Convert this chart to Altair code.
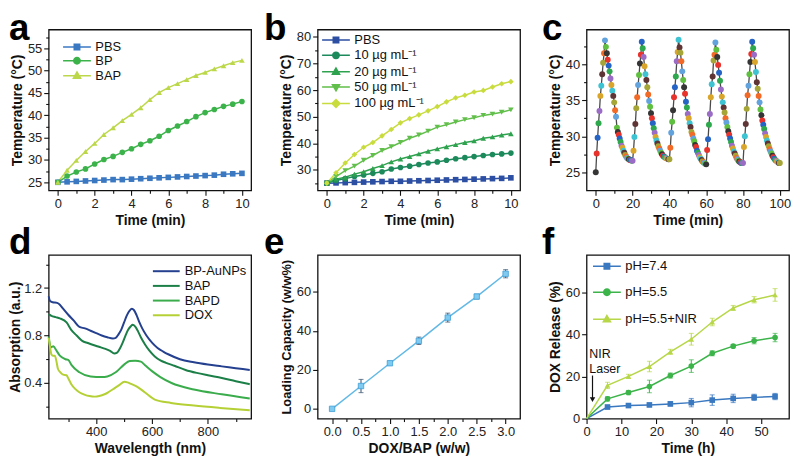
import altair as alt
import numpy as np
import pandas as pd

FONT = "Liberation Sans"

# ---------------- (a) heating curves ----------------
a_time = [0, 0.5, 1, 1.5, 2, 2.5, 3, 3.5, 4, 4.5, 5, 5.5, 6, 6.5, 7, 7.5, 8, 8.5, 9, 9.5, 10]
a_names = ["PBS", "BP", "BAP"]
a_pbs = [25.0, 25.1, 25.2, 25.3, 25.4, 25.5, 25.6, 25.6, 25.7, 25.8, 25.9, 26.0, 26.1, 26.2, 26.3, 26.4, 26.5, 26.6, 26.8, 26.9, 27.0]
a_bp = [25.0, 26.4, 27.3, 28.0, 29.1, 30.1, 30.8, 31.7, 32.5, 33.5, 34.3, 35.3, 36.6, 37.6, 38.6, 39.7, 40.6, 41.3, 42.0, 42.5, 43.1]
a_bap = [25.0, 27.7, 29.9, 31.9, 33.7, 35.7, 37.2, 38.8, 40.2, 41.7, 43.5, 45.1, 46.2, 47.1, 48.0, 48.9, 49.6, 50.4, 51.1, 51.8, 52.3]
a_colors = ["#3b78c2", "#3cb34a", "#bcd84a"]

# ---------------- (b) concentration dependence ----------------
b_names = ["PBS", "10 µg mL⁻¹", "20 µg mL⁻¹", "50 µg mL⁻¹", "100 µg mL⁻¹"]
b_pbs = [25.0, 25.1, 25.2, 25.3, 25.4, 25.5, 25.6, 25.7, 25.7, 25.8, 25.9, 26.0, 26.1, 26.2, 26.3, 26.4, 26.5, 26.6, 26.7, 26.8, 27.0]
b_10 = [25.0, 26.0, 26.7, 27.5, 28.1, 28.7, 29.3, 30.3, 30.9, 31.4, 32.0, 32.6, 33.0, 33.6, 34.2, 34.6, 35.0, 35.4, 35.8, 36.0, 36.3]
b_20 = [25.0, 26.5, 27.2, 28.4, 29.3, 30.5, 31.6, 33.0, 34.1, 35.0, 36.0, 37.0, 37.9, 38.7, 39.5, 40.3, 40.9, 41.9, 42.4, 43.1, 43.6]
b_50 = [25.0, 27.5, 29.7, 31.4, 33.6, 35.4, 37.3, 38.7, 40.3, 41.9, 43.1, 44.6, 46.1, 47.0, 48.0, 48.9, 49.6, 50.5, 51.0, 51.7, 52.6]
b_100 = [25.0, 28.9, 32.6, 35.8, 38.5, 40.3, 42.8, 45.2, 47.7, 49.3, 50.7, 52.2, 53.8, 55.6, 57.1, 58.1, 59.3, 59.9, 61.2, 62.4, 63.2]
b_colors = ["#2c4fa3", "#1d8a5c", "#2ea24e", "#62bf4b", "#c9dc3e"]

# ---------------- (c) on/off cycles ----------------
c_temp = [
    25.0, 27.6, 29.8, 31.8, 33.5, 35.6, 37.0, 38.6, 40.2, 41.5, 43.3,
    42.4, 41.5, 40.6, 39.8, 39.0, 38.0, 37.1, 36.3, 35.6, 34.7, 33.6, 32.7, 31.2, 30.6, 30.2,
    29.7, 29.2, 28.7, 28.4, 28.0, 27.7, 27.4, 27.2, 27.0, 26.9, 26.8, 26.7, 26.7, 26.6, 26.6,
    28.0, 29.9, 31.7, 33.9, 35.4, 37.1, 38.5, 40.1, 41.3, 43.1,
    42.2, 41.0, 39.7, 38.6, 37.8, 36.8, 35.8, 34.9, 34.1, 33.2, 32.5, 31.8, 31.1, 30.5, 29.9,
    29.4, 29.0, 28.6, 28.3, 28.0, 27.7, 27.5, 27.3, 27.2, 27.1, 27.0, 26.9, 26.9, 26.8, 26.8,
    28.4, 30.5, 32.0, 33.6, 35.4, 36.8, 38.3, 40.4, 41.7, 43.4,
    42.3, 41.6, 40.4, 39.0, 37.8, 36.8, 35.9, 34.8, 34.0, 33.1, 32.5, 31.8, 31.3, 30.6, 30.2,
    29.7, 29.3, 28.8, 28.5, 28.0, 27.7, 27.4, 27.1, 26.9, 26.7, 26.5, 26.4, 26.3, 26.2, 26.1,
    28.1, 29.6, 31.6, 33.1, 35.4, 37.2, 38.3, 40.5, 41.3, 43.0,
    42.0, 41.0, 39.9, 38.8, 37.7, 36.5, 35.5, 34.7, 34.0, 33.3, 32.5, 31.9, 31.3, 30.7, 30.2,
    29.7, 29.2, 28.7, 28.3, 27.9, 27.6, 27.3, 27.0, 26.8, 26.6, 26.5, 26.4, 26.3, 26.3, 26.3,
    28.5, 30.0, 31.7, 33.8, 35.7, 37.0, 38.6, 40.3, 41.4, 43.1,
    42.2, 41.3, 40.3, 38.9, 37.5, 36.6, 35.6, 34.7, 33.7, 32.9, 32.2, 31.6, 31.0, 30.4, 29.9,
    29.4, 29.0, 28.6, 28.2, 27.9, 27.6, 27.3, 27.1, 26.9, 26.7, 26.6, 26.5, 26.4, 26.3, 26.3,
]
c_time = [i * 0.5 for i in range(len(c_temp))]
c_palette = ["#353535", "#e8322c", "#2563c4", "#2ea84c", "#9b6cc6", "#d9a52a",
             "#3ec3d3", "#5e3434", "#a6a636", "#f26a26", "#62a2dd", "#5fbf3f"]

# ---------------- (d) absorption spectra ----------------
d_names = ["BP-AuNPs", "BAP", "BAPD", "DOX"]
d_colors = ["#24408f", "#1c7f47", "#3aac4c", "#b4d034"]
d_wl_1 = [230, 235, 245, 260, 270, 280, 300, 320, 340, 360, 380, 400, 420, 440, 460, 470, 480, 490, 500, 510, 520, 528, 535, 545, 555, 565, 580, 600, 620, 640, 660, 700, 750, 800, 850, 900, 950]
d_ab_1 = [1.13, 1.09, 1.08, 1.075, 1.06, 1.03, 0.975, 0.925, 0.872, 0.86, 0.84, 0.82, 0.80, 0.785, 0.775, 0.78, 0.81, 0.85, 0.91, 0.97, 1.01, 1.025, 1.015, 0.97, 0.91, 0.86, 0.80, 0.74, 0.695, 0.665, 0.64, 0.60, 0.574, 0.555, 0.54, 0.525, 0.51]
d_wl_2 = [230, 240, 255, 270, 294, 310, 330, 350, 370, 390, 410, 430, 450, 465, 475, 485, 495, 505, 515, 525, 530, 540, 550, 560, 575, 590, 610, 630, 650, 680, 720, 760, 800, 850, 900, 950]
d_ab_2 = [0.98, 0.965, 0.955, 0.945, 0.91, 0.85, 0.80, 0.755, 0.737, 0.72, 0.705, 0.69, 0.67, 0.648, 0.655, 0.69, 0.74, 0.80, 0.85, 0.88, 0.89, 0.875, 0.835, 0.785, 0.725, 0.675, 0.624, 0.59, 0.57, 0.545, 0.51, 0.485, 0.465, 0.442, 0.415, 0.39]
d_wl_3 = [230, 238, 247, 256, 270, 290, 300, 312, 340, 380, 420, 440, 470, 500, 520, 540, 560, 575, 600, 630, 670, 750, 850, 950]
d_ab_3 = [0.79, 0.70, 0.71, 0.68, 0.63, 0.60, 0.595, 0.55, 0.49, 0.455, 0.45, 0.455, 0.49, 0.555, 0.585, 0.588, 0.58, 0.55, 0.50, 0.45, 0.40, 0.345, 0.305, 0.27]
d_wl_4 = [230, 235, 240, 245, 252, 258, 263, 272, 282, 294, 300, 311, 325, 341, 360, 376, 395, 411, 430, 446, 465, 481, 502, 512, 522, 546, 575, 610, 668, 750, 843, 950]
d_ab_4 = [0.78, 0.70, 0.64, 0.63, 0.63, 0.58, 0.52, 0.49, 0.47, 0.465, 0.44, 0.39, 0.35, 0.32, 0.30, 0.29, 0.285, 0.29, 0.305, 0.326, 0.355, 0.38, 0.41, 0.405, 0.395, 0.37, 0.32, 0.26, 0.232, 0.21, 0.19, 0.17]

# ---------------- (e) loading capacity ----------------
e_ratio = [0.0, 0.5, 1.0, 1.5, 2.0, 2.5, 3.0]
e_capacity = [0.0, 11.7, 23.4, 34.9, 46.8, 57.6, 69.3]
e_err = [0.6, 3.4, 0.8, 1.9, 2.3, 1.2, 2.1]

# ---------------- (f) DOX release ----------------
f_time = [0, 6, 12, 18, 24, 30, 36, 42, 48, 54]
f_names = ["pH=7.4", "pH=5.5", "pH=5.5+NIR"]
f_74 = [0, 5.5, 6.2, 6.5, 7.0, 7.6, 8.8, 9.6, 10.1, 10.5]
f_74_err = [0, 0.8, 0.8, 0.8, 1.0, 2.0, 2.5, 2.0, 1.5, 1.5]
f_55 = [0, 9.4, 12.4, 15.3, 20.5, 25.0, 31.1, 34.5, 37.1, 38.6]
f_55_err = [0, 1.0, 1.0, 3.0, 1.2, 3.0, 1.2, 0.8, 1.5, 2.0]
f_nir = [0, 15.8, 20.1, 24.8, 31.8, 37.8, 46.0, 52.7, 56.6, 58.9]
f_nir_err = [0, 1.5, 1.0, 2.5, 1.2, 2.8, 1.8, 1.2, 1.5, 3.0]
f_colors = ["#3a78c0", "#3cb44a", "#b7d748"]
f_note = ["NIR", "Laser"]

# ---------------- helpers ----------------
SQ = "M-2.8,0H2.8M-0.55,-0.55H0.55V0.55H-0.55Z"
CI = "M-2.8,0H2.8M0.65,0A0.65,0.65,0,1,1,-0.65,0A0.65,0.65,0,1,1,0.65,0Z"
TU = "M-2.8,0H2.8M0,-0.75L0.72,0.5H-0.72Z"
TD = "M-2.8,0H2.8M0,0.75L0.72,-0.5H-0.72Z"
DI = "M-2.8,0H2.8M0,-0.8L0.8,0L0,0.8L-0.8,0Z"
LN = "M-2.7,0H2.7"


def long_df(x, names, ys):
    rows = []
    for n, yy in zip(names, ys):
        for xi, yi in zip(x, yy):
            rows.append({"x": xi, "y": yi, "s": n})
    return pd.DataFrame(rows)


def sc(dom):
    return alt.Scale(domain=dom, nice=False, zero=False)


def mk_axis(title, values, major, fmt, title_pad=3, title_size=14):
    test = f"abs(datum.value / {major} - round(datum.value / {major})) < 0.001"
    return alt.Axis(title=title, values=values, format=fmt, titlePadding=title_pad,
                    titleFontSize=title_size,
                    labelExpr=f"({test}) ? datum.label : ''",
                    tickSize={"condition": {"test": test, "value": 5}, "value": 3})


def leg(x, y, row_pad, label_offset=12):
    return alt.Legend(title=None, orient="none", legendX=x, legendY=y,
                      symbolSize=100, symbolStrokeWidth=1.5, symbolOpacity=1,
                      labelFont=FONT, labelFontSize=13, labelColor="#111",
                      labelOffset=label_offset, rowPadding=row_pad, padding=0)


def letter(t, dx, dy):
    return alt.TitleParams(t, anchor="start", frame="group", fontSize=37, fontWeight="bold",
                           font=FONT, color="#000", dx=dx, offset=0, dy=dy, baseline="alphabetic")


def series_layers(df, names, colors, shapes, paths, X, Y, legend, msize=32, pts_filter=None):
    cs = alt.Scale(domain=names, range=colors)
    base = alt.Chart(df)
    line = base.mark_line(strokeWidth=1.5).encode(
        x=X, y=Y, color=alt.Color("s:N", scale=cs, legend=None))
    pbase = base.transform_filter(pts_filter) if pts_filter else base
    pts = pbase.mark_point(filled=True, size=msize, opacity=1).encode(
        x=X, y=Y, color=alt.Color("s:N", scale=cs, legend=None),
        shape=alt.Shape("s:N", scale=alt.Scale(domain=names, range=shapes), legend=None))
    key = base.mark_point(filled=True, opacity=0).encode(
        x=X, y=Y,
        fill=alt.Fill("s:N", scale=alt.Scale(domain=names, range=colors), legend=legend),
        stroke=alt.Stroke("s:N", scale=alt.Scale(domain=names, range=colors), legend=legend),
        shape=alt.Shape("s:N", scale=alt.Scale(domain=names, range=paths), legend=legend))
    return line, pts, key


W = 204
H1 = 162
H2 = 165
DY1 = 48
DY2 = 36
IND = dict(color="independent", shape="independent", fill="independent", stroke="independent")

# ---------------- panel a ----------------
df_a = long_df(a_time, a_names, [a_pbs, a_bp, a_bap])
Xa = alt.X("x:Q", scale=sc([-0.5, 10.5]), axis=mk_axis("Time (min)", list(range(0, 11)), 2, "d"))
Ya = alt.Y("y:Q", scale=sc([23.2, 59.2]),
           axis=mk_axis("Temperature (°C)", [25 + 2.5 * i for i in range(14)], 5, "d"))
la, pa, ka = series_layers(df_a, a_names, a_colors, ["square", "circle", "triangle-up"],
                           [SQ, CI, TU], Xa, Ya, leg(22, 11, 0))
panel_a = alt.layer(la, pa, ka).resolve_scale(
    shape="independent", fill="independent", stroke="independent"
).properties(width=W, height=H1, title=letter("a", -40, DY1))

# ---------------- panel b ----------------
df_b = long_df(a_time, b_names, [b_pbs, b_10, b_20, b_50, b_100])
Xb = alt.X("x:Q", scale=sc([-0.5, 10.5]), axis=mk_axis("Time (min)", list(range(0, 11)), 2, "d"))
Yb = alt.Y("y:Q", scale=sc([22.3, 82.8]),
           axis=mk_axis("Temperature (°C)", list(range(25, 81, 5)), 10, "d"))
lb, pb, kb = series_layers(df_b, b_names, b_colors,
                           ["square", "circle", "triangle-up", "triangle-down", "diamond"],
                           [SQ, CI, TU, TD, DI], Xb, Yb, leg(12, 4, 1.5))
panel_b = alt.layer(lb, pb, kb).resolve_scale(
    shape="independent", fill="independent", stroke="independent"
).properties(width=W, height=H1, title=letter("b", -54, DY1))

# ---------------- panel c ----------------
df_c = pd.DataFrame({"x": c_time, "y": c_temp})
df_c["k"] = np.arange(len(df_c)) % len(c_palette)
Xc = alt.X("x:Q", scale=sc([-5, 105]), axis=mk_axis("Time (min)", list(range(0, 101, 10)), 20, "d"))
Yc = alt.Y("y:Q", scale=sc([22.5, 44.8]),
           axis=mk_axis("Temperature (°C)", [25 + 2.5 * i for i in range(8)], 5, "d"))
lc = alt.Chart(df_c).mark_line(color="#4a4a4a", strokeWidth=1.3).encode(x=Xc, y=Yc)
pc = alt.Chart(df_c).mark_circle(size=36, opacity=1).encode(
    x=Xc, y=Yc,
    color=alt.Color("k:N", scale=alt.Scale(domain=list(range(len(c_palette))), range=c_palette),
                    legend=None))
panel_c = alt.layer(lc, pc).properties(width=W, height=H1, title=letter("c", -45, DY1))

# ---------------- panel d ----------------
rows = []
for n, xs, ys in zip(d_names, [d_wl_1, d_wl_2, d_wl_3, d_wl_4], [d_ab_1, d_ab_2, d_ab_3, d_ab_4]):
    for xi, yi in zip(xs, ys):
        rows.append({"x": xi, "y": yi, "s": n})
df_d = pd.DataFrame(rows)
Xd = alt.X("x:Q", scale=sc([230, 955]),
           axis=mk_axis("Wavelength (nm)", list(range(300, 901, 100)), 200, "d"))
Yd = alt.Y("y:Q", scale=sc([0.1, 1.48]),
           axis=mk_axis("Absorption (a.u.)", [0.2, 0.4, 0.6, 0.8, 1.0, 1.2, 1.4], 0.4, ".1f",
                        title_pad=1))
ld_leg = leg(112, 10, 0.8, 12)
ld_leg["symbolType"] = LN
ld_leg["symbolStrokeWidth"] = 2
panel_d = alt.Chart(df_d).mark_line(strokeWidth=2, interpolate="monotone").encode(
    x=Xd, y=Yd,
    color=alt.Color("s:N", scale=alt.Scale(domain=d_names, range=d_colors), legend=ld_leg),
).properties(width=W, height=H2, title=letter("d", -40, DY2))

# ---------------- panel e ----------------
df_e = pd.DataFrame({"x": e_ratio, "y": e_capacity, "err": e_err})
df_e["lo"] = df_e["y"] - df_e["err"]
df_e["hi"] = df_e["y"] + df_e["err"]
Xe = alt.X("x:Q", scale=sc([-0.25, 3.25]),
           axis=mk_axis("DOX/BAP (w/w)", [0.25 * i for i in range(13)], 0.5, ".1f"))
Ye = alt.Y("y:Q", scale=sc([-5, 79]),
           axis=mk_axis("Loading Capacity (w/w%)", list(range(0, 71, 10)), 20, "d",
                        title_size=13))
be = alt.Chart(df_e)
le = be.mark_line(color="#62b9e6", strokeWidth=1.5).encode(x=Xe, y=Ye)
re_ = be.mark_rule(color="#34506e", strokeWidth=1).encode(
    x=Xe, y=alt.Y("lo:Q", scale=sc([-5, 79])), y2="hi:Q")
t1e = be.mark_tick(orient="horizontal", size=5, thickness=1, color="#34506e").encode(
    x=Xe, y=alt.Y("lo:Q", scale=sc([-5, 79])))
t2e = be.mark_tick(orient="horizontal", size=5, thickness=1, color="#34506e").encode(
    x=Xe, y=alt.Y("hi:Q", scale=sc([-5, 79])))
pe = be.mark_point(shape="square", filled=True, size=30, color="#7fcaf0",
                   stroke="#3f9fd6", strokeWidth=0.8, opacity=1).encode(x=Xe, y=Ye)
panel_e = alt.layer(le, re_, t1e, t2e, pe).properties(
    width=W, height=H2, title=letter("e", -54, DY2))

# ---------------- panel f ----------------
df_f = long_df(f_time, f_names, [f_74, f_55, f_nir])
df_f["err"] = f_74_err + f_55_err + f_nir_err
df_f["lo"] = df_f["y"] - df_f["err"]
df_f["hi"] = df_f["y"] + df_f["err"]
fdom_y = [0, 78]
Xf = alt.X("x:Q", scale=sc([0, 58]), axis=mk_axis("Time (h)", list(range(0, 56, 5)), 10, "d"))
Yf = alt.Y("y:Q", scale=sc(fdom_y),
           axis=mk_axis("DOX Release (%)", list(range(0, 71, 10)), 20, "d"))
lf, pf, kf = series_layers(df_f, f_names, f_colors, ["square", "circle", "triangle-up"],
                           [SQ, CI, TU], Xf, Yf, leg(14, 5, 12.2), pts_filter="datum.x > 0")
fcs = alt.Scale(domain=f_names, range=f_colors)
bf = alt.Chart(df_f).transform_filter("datum.x > 0")
rf = bf.mark_rule(strokeWidth=1).encode(
    x=Xf, y=alt.Y("lo:Q", scale=sc(fdom_y)), y2="hi:Q",
    color=alt.Color("s:N", scale=fcs, legend=None))
t1f = bf.mark_tick(orient="horizontal", size=5, thickness=1).encode(
    x=Xf, y=alt.Y("lo:Q", scale=sc(fdom_y)), color=alt.Color("s:N", scale=fcs, legend=None))
t2f = bf.mark_tick(orient="horizontal", size=5, thickness=1).encode(
    x=Xf, y=alt.Y("hi:Q", scale=sc(fdom_y)), color=alt.Color("s:N", scale=fcs, legend=None))
ann = pd.DataFrame({"x": [0.8], "y": [33.5], "t": ["\n".join(f_note)],
                    "ax": [1.7], "ay1": [20.5], "ay2": [9.0]})
txt = alt.Chart(ann).mark_text(align="left", baseline="top", font=FONT, fontSize=12.5,
                               lineBreak="\n", lineHeight=14.5, color="#111").encode(
    x=Xf, y=Yf, text="t:N")
arr = alt.Chart(ann).mark_rule(color="#111", strokeWidth=1.2).encode(
    x=alt.X("ax:Q", scale=sc([0, 58])), y=alt.Y("ay1:Q", scale=sc(fdom_y)), y2="ay2:Q")
head = alt.Chart(ann).mark_point(shape="triangle-down", filled=True, size=30, color="#111",
                                 opacity=1).encode(
    x=alt.X("ax:Q", scale=sc([0, 58])), y=alt.Y("ay2:Q", scale=sc(fdom_y)))
panel_f = alt.layer(lf, rf, t1f, t2f, pf, kf, txt, arr, head).resolve_scale(
    shape="independent", fill="independent", stroke="independent"
).properties(width=W, height=H2, title=letter("f", -45, DY2))

chart = alt.concat(panel_a, panel_b, panel_c, panel_d, panel_e, panel_f,
                   columns=3, spacing={"row": 65, "column": 67}, bounds="flush",
                   padding=0
                   ).resolve_scale(**IND).resolve_legend(**IND).configure_view(
    stroke="#111", strokeWidth=1.3
).configure_axis(
    domain=False, grid=False, tickColor="#111", tickWidth=1.1,
    labelFont=FONT, labelFontSize=13, labelColor="#222", labelPadding=2,
    labelOverlap=False, labelFlush=False,
    titleFont=FONT, titleFontWeight="bold", titleColor="#111",
)

chart.save("out.html", embed_options={"renderer": "svg", "actions": False})
